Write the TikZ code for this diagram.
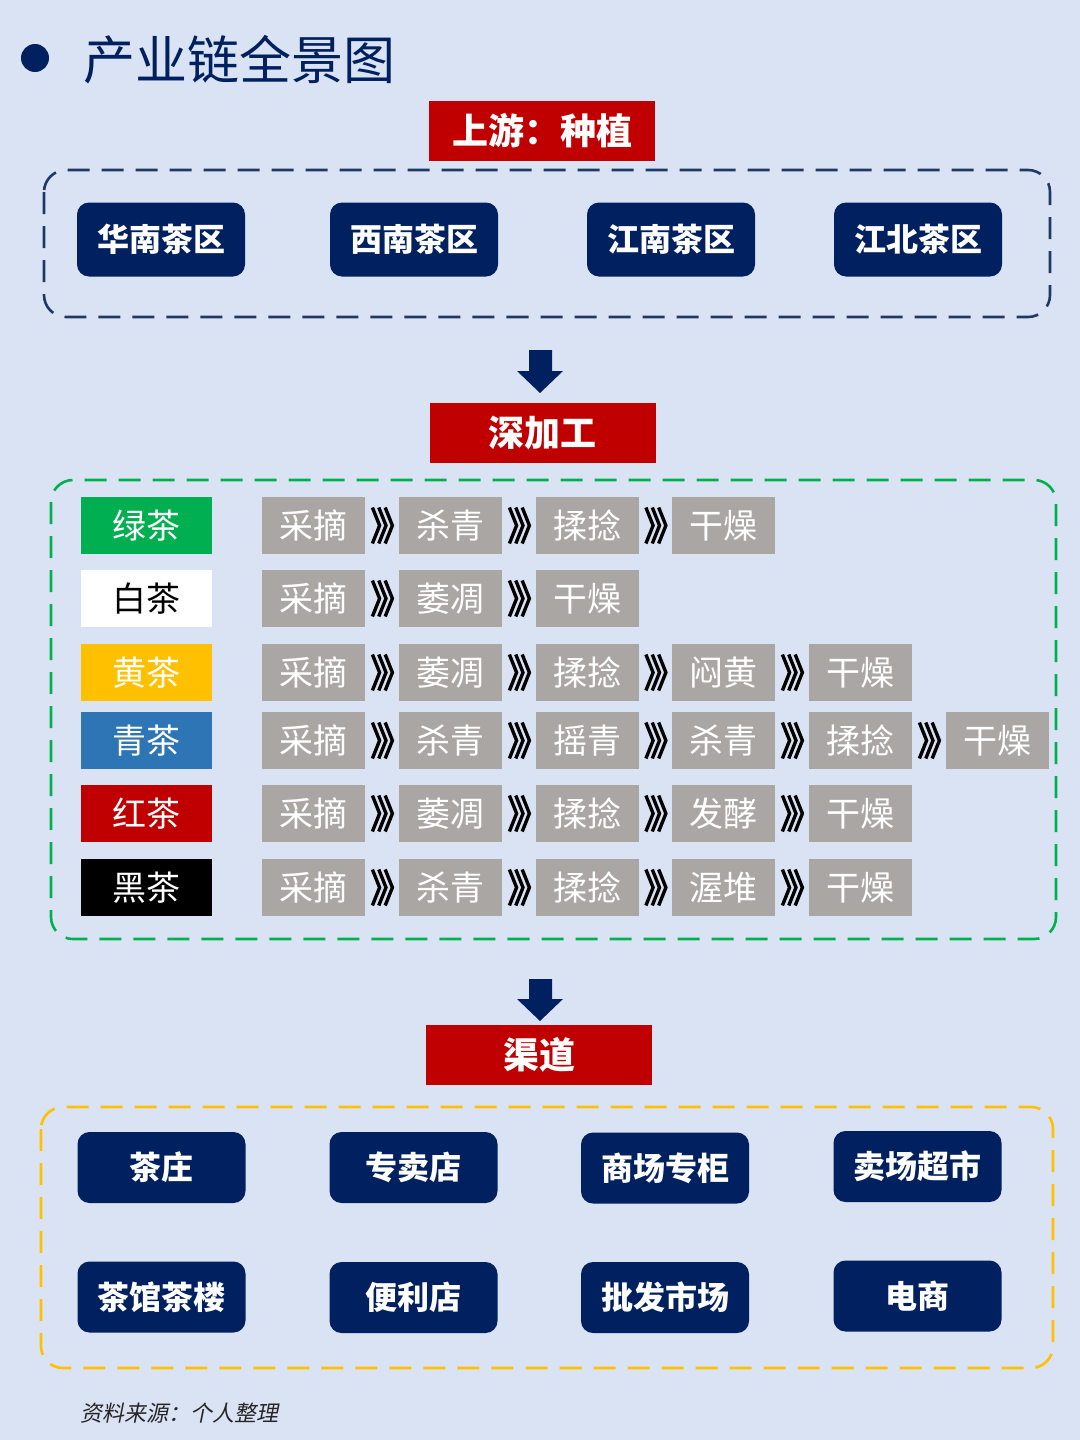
\documentclass[tikz,border=0pt]{standalone}
\usepackage{fontspec}
\setmainfont{Noto Sans CJK SC}
\newfontfamily\notefont[FakeSlant=0.2]{Noto Sans CJK SC}
\definecolor{bg}{HTML}{DAE3F3}
\definecolor{navy}{HTML}{002060}
\definecolor{framenavy}{HTML}{1F3864}
\definecolor{headred}{HTML}{C00000}
\definecolor{teagreen}{HTML}{00B050}
\definecolor{teayellow}{HTML}{FFC000}
\definecolor{teablue}{HTML}{2E75B6}
\definecolor{stepgrey}{HTML}{A9A6A4}
\definecolor{notegrey}{HTML}{262626}
\begin{document}
\begin{tikzpicture}
[x=0.5pt,y=-0.5pt,
  headdecorate/.style={fill=headred,text=white,minimum width=113pt,minimum height=30pt,inner sep=0pt,font=\fontsize{18}{20}\selectfont\bfseries},%
  boxdecorate/.style={fill=navy,text=white,rounded corners=6pt,minimum width=84pt,minimum height=37pt,inner sep=0pt,font=\fontsize{16}{18}\selectfont\bfseries},%
  teadecorate/.style={minimum width=65.5pt,minimum height=28.5pt,inner sep=0pt,text=white,font=\fontsize{17}{19}\selectfont},%
  stepdecorate/.style={fill=stepgrey,text=white,minimum width=51.5pt,minimum height=28.5pt,inner sep=0pt,font=\fontsize{17}{19}\selectfont},%
  chevline/.style={draw=none},%
  chevdecorate/.style={inner sep=0pt,minimum width=12pt,minimum height=20pt,path picture={
    \foreach \k in {0,3.2,6.4}
      \draw[line width=1.7pt,black]
        ([xshift={(\k+1.2)*1pt},yshift=-1pt]path picture bounding box.north west)
        -- ([xshift={(\k+4.8)*1pt}]path picture bounding box.west)
        -- ([xshift={(\k+1.2)*1pt},yshift=1pt]path picture bounding box.south west);}},%
  framedecorate/.style={line width=1.3pt,dash pattern=on 11pt off 6pt,rounded corners=11pt},%
  arrowdecorate/.style={fill=navy}]
% page
\fill[bg] (0,0) rectangle (1080,1440);
\useasboundingbox (0,0) rectangle (1080,1440);
% title
\node (dot) at (35,58) [circle,fill=navy,minimum size=14pt,inner sep=0pt] {};
\node (title) at (83,60) [right,inner sep=0pt,text=navy,font=\fontsize{26}{30}\selectfont] {产业链全景图};
% upstream
\node (up) at (542,131) [headdecorate] {上游：种植};
\draw[framedecorate,framenavy] (44,170) rectangle (1050,317);
\node (r1) at (161,239.5) [boxdecorate] {华南茶区};
\node (r2) at (414,239.5) [boxdecorate] {西南茶区};
\node (r3) at (671,239.5) [boxdecorate] {江南茶区};
\node (r4) at (918,239.5) [boxdecorate] {江北茶区};
% first arrow
\fill[arrowdecorate] (529,350) -- (552,350) -- (552,371) -- (563,371) -- (540,393) -- (517,371) -- (529,371) -- cycle;
% processing
\node (proc) at (542.5,433) [headdecorate] {深加工};
\draw[framedecorate,teagreen] (51,480) rectangle (1056,939);
% tea kinds
\node (t1) at (146.5,525.5) [teadecorate,fill=teagreen] {绿茶};
\node (t2) at (146.5,598.5) [teadecorate,fill=white,text=black] {白茶};
\node (t3) at (146.5,672.5) [teadecorate,fill=teayellow] {黄茶};
\node (t4) at (146.5,740.5) [teadecorate,fill=teablue] {青茶};
\node (t5) at (146.5,813.5) [teadecorate,fill=headred] {红茶};
\node (t6) at (146.5,887.5) [teadecorate,fill=black] {黑茶};
% steps
\node (s11) at (313.5,525.5) [stepdecorate] {采摘};
\node (s12) at (450.5,525.5) [stepdecorate] {杀青};
\node (s13) at (587.5,525.5) [stepdecorate] {揉捻};
\node (s14) at (723.5,525.5) [stepdecorate] {干燥};
\node (s21) at (313.5,598.5) [stepdecorate] {采摘};
\node (s22) at (450.5,598.5) [stepdecorate] {萎凋};
\node (s23) at (587.5,598.5) [stepdecorate] {干燥};
\node (s31) at (313.5,672.5) [stepdecorate] {采摘};
\node (s32) at (450.5,672.5) [stepdecorate] {萎凋};
\node (s33) at (587.5,672.5) [stepdecorate] {揉捻};
\node (s34) at (723.5,672.5) [stepdecorate] {闷黄};
\node (s35) at (860.5,672.5) [stepdecorate] {干燥};
\node (s41) at (313.5,740.5) [stepdecorate] {采摘};
\node (s42) at (450.5,740.5) [stepdecorate] {杀青};
\node (s43) at (587.5,740.5) [stepdecorate] {摇青};
\node (s44) at (723.5,740.5) [stepdecorate] {杀青};
\node (s45) at (860.5,740.5) [stepdecorate] {揉捻};
\node (s46) at (997.5,740.5) [stepdecorate] {干燥};
\node (s51) at (313.5,813.5) [stepdecorate] {采摘};
\node (s52) at (450.5,813.5) [stepdecorate] {萎凋};
\node (s53) at (587.5,813.5) [stepdecorate] {揉捻};
\node (s54) at (723.5,813.5) [stepdecorate] {发酵};
\node (s55) at (860.5,813.5) [stepdecorate] {干燥};
\node (s61) at (313.5,887.5) [stepdecorate] {采摘};
\node (s62) at (450.5,887.5) [stepdecorate] {杀青};
\node (s63) at (587.5,887.5) [stepdecorate] {揉捻};
\node (s64) at (723.5,887.5) [stepdecorate] {渥堆};
\node (s65) at (860.5,887.5) [stepdecorate] {干燥};
% chevrons between steps
\path
(s11) edge[chevline] node[chevdecorate]{} (s12)
(s12) edge[chevline] node[chevdecorate]{} (s13)
(s13) edge[chevline] node[chevdecorate]{} (s14)
(s21) edge[chevline] node[chevdecorate]{} (s22)
(s22) edge[chevline] node[chevdecorate]{} (s23)
(s31) edge[chevline] node[chevdecorate]{} (s32)
(s32) edge[chevline] node[chevdecorate]{} (s33)
(s33) edge[chevline] node[chevdecorate]{} (s34)
(s34) edge[chevline] node[chevdecorate]{} (s35)
(s41) edge[chevline] node[chevdecorate]{} (s42)
(s42) edge[chevline] node[chevdecorate]{} (s43)
(s43) edge[chevline] node[chevdecorate]{} (s44)
(s44) edge[chevline] node[chevdecorate]{} (s45)
(s45) edge[chevline] node[chevdecorate]{} (s46)
(s51) edge[chevline] node[chevdecorate]{} (s52)
(s52) edge[chevline] node[chevdecorate]{} (s53)
(s53) edge[chevline] node[chevdecorate]{} (s54)
(s54) edge[chevline] node[chevdecorate]{} (s55)
(s61) edge[chevline] node[chevdecorate]{} (s62)
(s62) edge[chevline] node[chevdecorate]{} (s63)
(s63) edge[chevline] node[chevdecorate]{} (s64)
(s64) edge[chevline] node[chevdecorate]{} (s65);
% second arrow
\fill[arrowdecorate] (529,979) -- (552,979) -- (552,999) -- (563,999) -- (540,1021) -- (517,999) -- (529,999) -- cycle;
% channels
\node (chan) at (539,1054.5) [headdecorate] {渠道};
\draw[framedecorate,teayellow] (41,1107) rectangle (1053,1368);
\node (c1) at (161.5,1167.5) [boxdecorate,minimum height=35.5pt] {茶庄};
\node (c2) at (413.5,1167.5) [boxdecorate,minimum height=35.5pt] {专卖店};
\node (c3) at (665,1168) [boxdecorate,minimum height=35.5pt] {商场专柜};
\node (c4) at (917.5,1166.5) [boxdecorate,minimum height=35.5pt] {卖场超市};
\node (c5) at (161.5,1297) [boxdecorate,minimum height=35.5pt] {茶馆茶楼};
\node (c6) at (413.5,1297.5) [boxdecorate,minimum height=35.5pt] {便利店};
\node (c7) at (665,1297.5) [boxdecorate,minimum height=35.5pt] {批发市场};
\node (c8) at (917.5,1296) [boxdecorate,minimum height=35.5pt] {电商};
% source note
\node (note) at (80,1413) [right,inner sep=0pt,text=notegrey,font=\notefont\fontsize{11}{13}\selectfont] {资料来源：个人整理};
\end{tikzpicture}
\end{document}
